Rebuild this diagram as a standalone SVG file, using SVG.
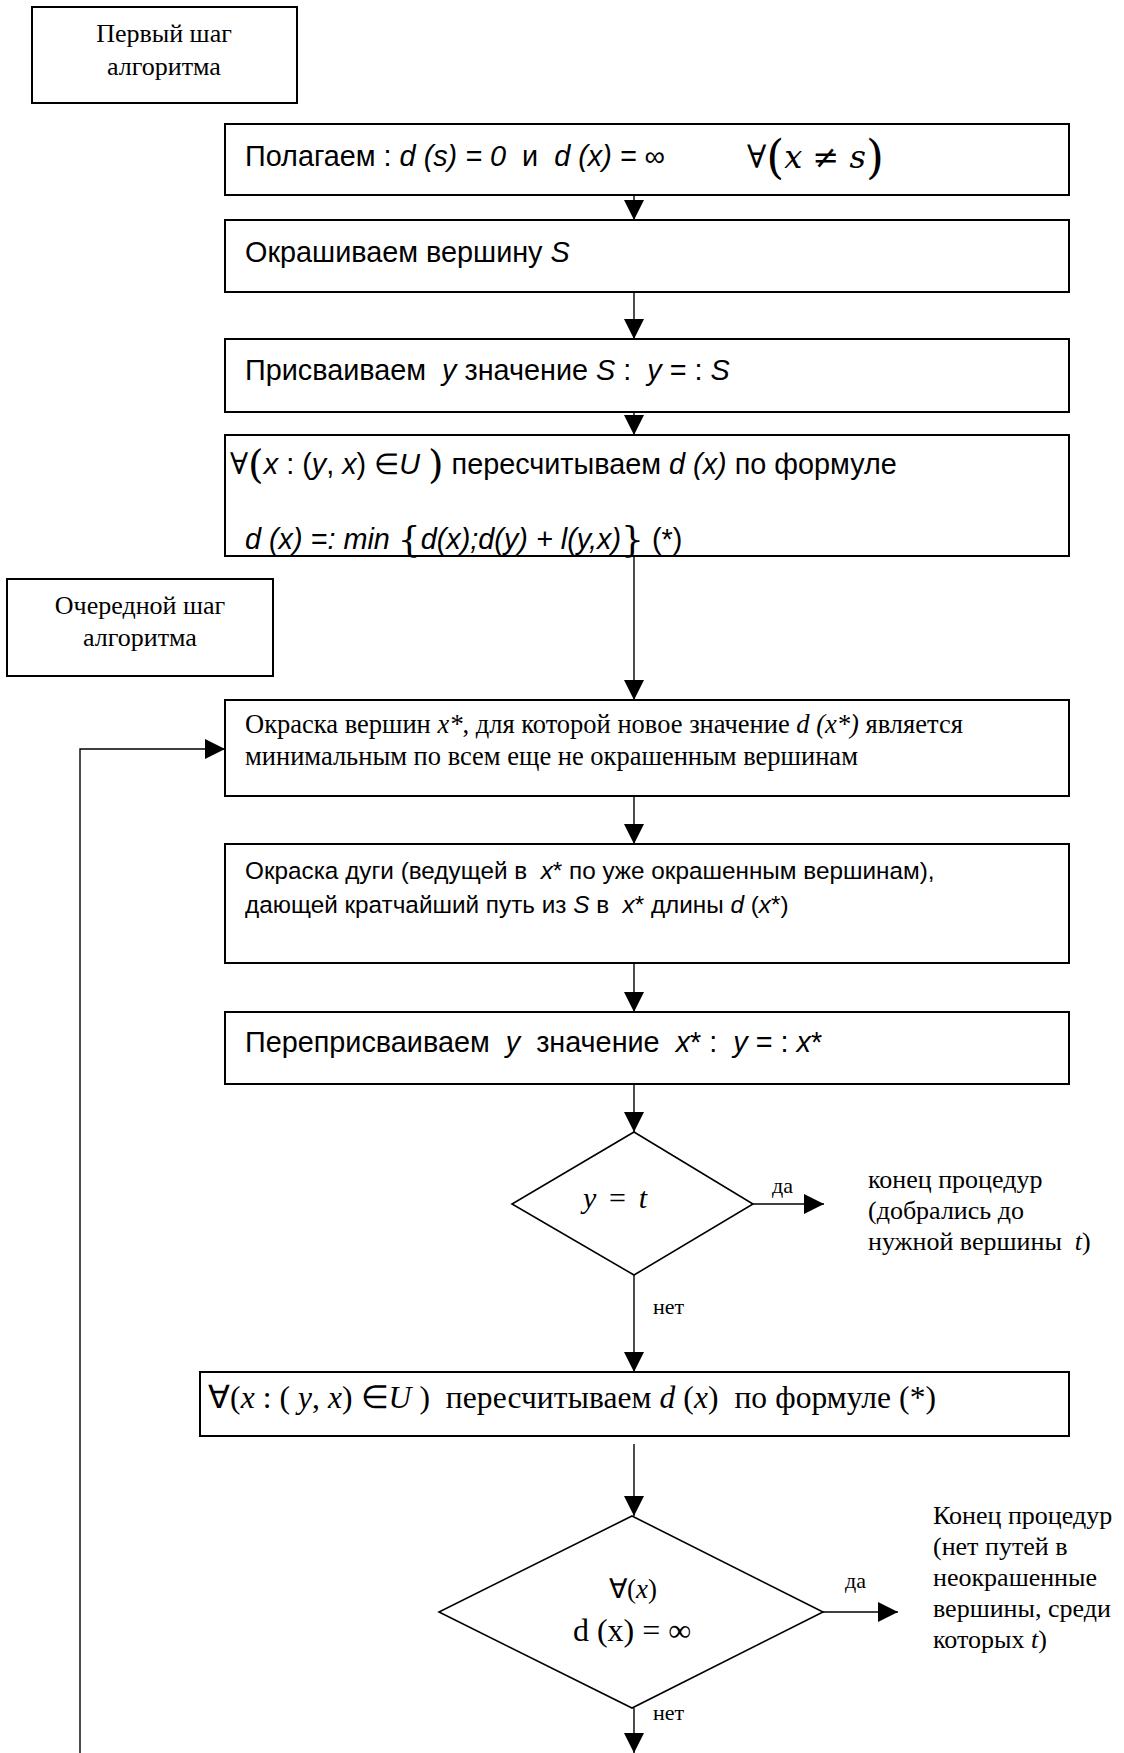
<svg xmlns="http://www.w3.org/2000/svg" width="1124" height="1753" viewBox="0 0 1124 1753" xml:space="preserve">
<defs>
<marker id="ah" markerUnits="userSpaceOnUse" markerWidth="22" markerHeight="20" refX="20" refY="10" orient="auto">
<path d="M0,0 L20,10 L0,20 z" fill="#000"/>
</marker>
<style>
text{white-space:pre}
.box{fill:#fff;stroke:#000;stroke-width:2}
.dia{fill:#fff;stroke:#000;stroke-width:1.6}
.con{fill:none;stroke:#000;stroke-width:1.4}
.sans{font-family:"Liberation Sans",Arial,sans-serif;font-size:28.8px;fill:#000}
.sans2{font-family:"Liberation Sans",Arial,sans-serif;font-size:24.3px;fill:#000}
.ser{font-family:"Liberation Serif","Times New Roman",serif;font-size:26px;fill:#000}
.lbl{font-family:"Liberation Serif","Times New Roman",serif;font-size:22px;fill:#000}
.math{font-family:"DejaVu Serif","Liberation Serif",serif;fill:#000}
.i{font-style:italic}
</style>
</defs>
<rect width="1124" height="1753" fill="#fff"/>

<g id="connectors">
<path class="con" d="M634 195 V220" marker-end="url(#ah)"/>
<path class="con" d="M634 292 V339" marker-end="url(#ah)"/>
<path class="con" d="M634 412 V435" marker-end="url(#ah)"/>
<path class="con" d="M634 556 V700" marker-end="url(#ah)"/>
<path class="con" d="M634 796 V844" marker-end="url(#ah)"/>
<path class="con" d="M634 963 V1012" marker-end="url(#ah)"/>
<path class="con" d="M634 1084 V1132" marker-end="url(#ah)"/>
<path class="con" d="M753 1204 H824" marker-end="url(#ah)"/>
<path class="con" d="M634 1275 V1372" marker-end="url(#ah)"/>
<path class="con" d="M634 1444 V1516" marker-end="url(#ah)"/>
<path class="con" d="M823 1612 H898" marker-end="url(#ah)"/>
<path class="con" d="M634 1708 V1753" marker-end="url(#ah)"/>
<path class="con" d="M80 1753 V749 H225" marker-end="url(#ah)"/>
<text class="lbl" x="772" y="1193">да</text>
<text class="lbl" x="653" y="1314">нет</text>
<text class="lbl" x="845" y="1588">да</text>
<text class="lbl" x="653" y="1720">нет</text>
</g>

<g id="step1">
<rect class="box" x="32" y="7" width="265" height="96"/>
<text class="ser" x="164" y="42" text-anchor="middle">Первый шаг</text>
<text class="ser" x="164" y="75" text-anchor="middle">алгоритма</text>
</g>

<g id="init">
<rect class="box" x="225" y="124" width="844" height="71"/>
<text class="sans" x="245" y="166">Полагаем : <tspan class="i">d (s) = 0</tspan>  и  <tspan class="i">d (x) = ∞</tspan></text>
<text class="math" x="747" y="168" font-size="32">∀<tspan font-size="46" dy="5">(</tspan><tspan class="i" dy="-5">x</tspan> ≠ <tspan class="i">s</tspan><tspan font-size="46" dy="5">)</tspan></text>
</g>

<g id="colorS">
<rect class="box" x="225" y="220" width="844" height="72"/>
<text class="sans" x="245" y="262">Окрашиваем вершину <tspan class="i">S</tspan></text>
</g>

<g id="assignY">
<rect class="box" x="225" y="339" width="844" height="73"/>
<text class="sans" x="245" y="380">Присваиваем  <tspan class="i">y</tspan> значение <tspan class="i">S</tspan> :  <tspan class="i">y</tspan> = : <tspan class="i">S</tspan></text>
</g>

<g id="recalc1">
<rect class="box" x="225" y="435" width="844" height="121"/>
<text class="sans" x="230" y="474"><tspan class="math" font-size="30">∀</tspan><tspan class="math" font-size="40" dy="4">(</tspan><tspan class="i" dy="-4">x</tspan> : (<tspan class="i">y</tspan>, <tspan class="i">x</tspan>) ∈<tspan class="i">U</tspan> <tspan class="math" font-size="40" dy="4">)</tspan><tspan dy="-4"> пересчитываем </tspan><tspan class="i">d (x)</tspan> по формуле</text>
<text class="sans" x="245" y="549"><tspan class="i">d (x) =: min </tspan><tspan class="math" font-size="36" dy="3">{</tspan><tspan class="i" dy="-3">d(x);d(y) + l(y,x)</tspan><tspan class="math" font-size="36" dy="3">}</tspan><tspan dy="-3"> (*)</tspan></text>
</g>

<g id="step2">
<rect class="box" x="7" y="579" width="266" height="97"/>
<text class="ser" x="140" y="614" text-anchor="middle">Очередной шаг</text>
<text class="ser" x="140" y="646" text-anchor="middle">алгоритма</text>
</g>

<g id="colorX">
<rect class="box" x="225" y="700" width="844" height="96"/>
<text class="ser" x="245" y="733" style="font-size:26.5px">Окраска вершин <tspan class="i">x*</tspan>, для которой новое значение <tspan class="i">d (x*)</tspan> является</text>
<text class="ser" x="245" y="765" style="font-size:26.5px">минимальным по всем еще не окрашенным вершинам</text>
</g>

<g id="colorArc">
<rect class="box" x="225" y="844" width="844" height="119"/>
<text class="sans2" x="245" y="879">Окраска дуги (ведущей в  <tspan class="i">x</tspan>* по уже окрашенным вершинам),</text>
<text class="sans2" x="245" y="913">дающей кратчайший путь из <tspan class="i">S</tspan> в  <tspan class="i">x</tspan>* длины <tspan class="i">d</tspan> (<tspan class="i">x</tspan>*)</text>
</g>

<g id="reassign">
<rect class="box" x="225" y="1012" width="844" height="72"/>
<text class="sans" x="245" y="1052">Переприсваиваем  <tspan class="i">y</tspan>  значение  <tspan class="i">x</tspan>* :  <tspan class="i">y</tspan> = : <tspan class="i">x</tspan>*</text>
</g>

<g id="decision1">
<polygon class="dia" points="634,1132 753,1204 634,1275 512,1204"/>
<text class="ser" x="583" y="1208" style="font-size:30px" textLength="64" lengthAdjust="spacing"><tspan class="i">y</tspan> = <tspan class="i">t</tspan></text>
</g>

<g id="end1">
<text class="ser" x="868" y="1188">конец процедур</text>
<text class="ser" x="868" y="1219">(добрались до</text>
<text class="ser" x="868" y="1250">нужной вершины  <tspan class="i">t</tspan>)</text>
</g>

<g id="recalc2">
<rect class="box" x="200" y="1372" width="869" height="64"/>
<text class="ser" x="208" y="1408" style="font-size:31.5px" textLength="728" lengthAdjust="spacing">∀(<tspan class="i">x</tspan> : ( <tspan class="i">y</tspan>, <tspan class="i">x</tspan>) ∈<tspan class="i">U</tspan> )  пересчитываем <tspan class="i">d</tspan> (<tspan class="i">x</tspan>)  по формуле (*)</text>
</g>

<g id="decision2">
<polygon class="dia" points="632,1516 823,1612 632,1708 439,1612"/>
<text class="ser" x="633" y="1598" text-anchor="middle" style="font-size:27px">∀(<tspan class="i">x</tspan>)</text>
<text class="ser" x="632" y="1641" text-anchor="middle" style="font-size:32px">d (x) = ∞</text>
</g>

<g id="end2">
<text class="ser" x="933" y="1524">Конец процедур</text>
<text class="ser" x="933" y="1555">(нет путей в</text>
<text class="ser" x="933" y="1586">неокрашенные</text>
<text class="ser" x="933" y="1617">вершины, среди</text>
<text class="ser" x="933" y="1648">которых <tspan class="i">t</tspan>)</text>
</g>
</svg>
